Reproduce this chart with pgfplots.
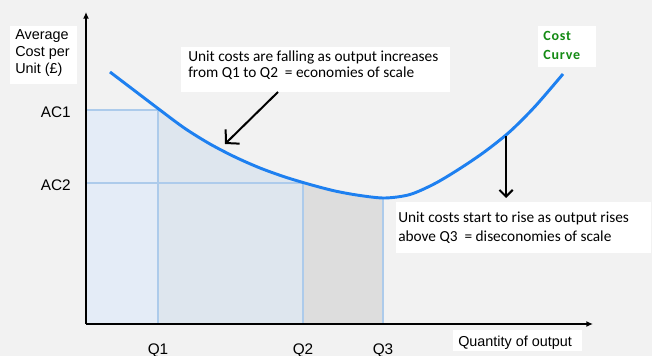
\documentclass[border=0pt]{standalone}
\usepackage{fontspec}
\setmainfont{Liberation Sans}
\newfontfamily\calibri{Carlito}
\newfontfamily\calibrisp[LetterSpace=6]{Carlito}
\usepackage{pgfplots}
\pgfplotsset{compat=1.18}
\usepgfplotslibrary{fillbetween}
\usetikzlibrary{arrows.meta}
\definecolor{bg}{HTML}{F2F2F2}
\definecolor{curveblue}{HTML}{1E80F0}
\definecolor{guide}{HTML}{ADCBEB}
\definecolor{fillA}{HTML}{E4ECF7}
\definecolor{fillB}{HTML}{DEE6EE}
\definecolor{fillC}{HTML}{DDDDDD}
\definecolor{costgreen}{HTML}{138A13}
\begin{document}
\begin{tikzpicture}
\fill[bg] (-64.5pt,-24pt) rectangle (424.5pt,243pt);
\begin{axis}[
  at={(0pt,0pt)}, anchor=south west,
  scale only axis, width=380.25pt, height=234pt,
  xmin=0, xmax=507, ymin=0, ymax=312,
  axis lines=left, axis on top,
  axis line style={line width=1.5pt, -{Latex[length=5pt,width=4.5pt]}},
  clip=false,
  xtick={72,217,297}, xticklabels={Q1,Q2,Q3},
  ytick={141,214}, yticklabels={AC2,AC1},
  major tick length=0pt,
  tick label style={font=\fontsize{11.5}{13}\selectfont},
  xticklabel style={yshift=-11pt},
  yticklabel style={xshift=-8pt, yshift=-2pt},
]
% region left of Q1 below AC1
\addplot[fill=fillA, draw=none] coordinates {(0,0) (0,214) (72,214) (72,0)} -- cycle;
% cost curve path
\addplot[name path=curve, draw=none, smooth, forget plot] coordinates {
(24,252) (49,233) (74,214) (99,195.5) (124,180) (149,167) (174,156) (199,147)
(224,139.5) (249,133) (274,128.5) (299,126) (324,129.5) (349,140.5) (374,155.5)
(399,172.5) (424,192.5) (449,217.5) (477,250)};
\path[name path=base] (axis cs:0,0) -- (axis cs:507,0);
\addplot[fillB] fill between[of=curve and base, soft clip={domain=72:217}, on layer=main];
\addplot[fillC] fill between[of=curve and base, soft clip={domain=217:297}, on layer=main];
% guide lines
\addplot[guide, line width=1.6pt] coordinates {(0,214) (72,214)};
\addplot[guide, line width=1.6pt] coordinates {(72,0) (72,214)};
\addplot[guide, line width=1.6pt] coordinates {(0,141) (217,141)};
\addplot[guide, line width=1.6pt] coordinates {(217,0) (217,141)};
\addplot[guide, line width=1.6pt] coordinates {(297,0) (297,126)};
% visible curve
\addplot[curveblue, line width=2.2pt, smooth] coordinates {
(24,252) (49,233) (74,214) (99,195.5) (124,180) (149,167) (174,156) (199,147)
(224,139.5) (249,133) (274,128.5) (299,126) (324,129.5) (349,140.5) (374,155.5)
(399,172.5) (424,192.5) (449,217.5) (477,250)};
% white boxes
\fill[white] (axis cs:95,232) rectangle (axis cs:364,277);
\fill[white] (axis cs:310,71) rectangle (axis cs:565,122);
\fill[white] (axis cs:-76,240) rectangle (axis cs:-9,298);
\fill[white] (axis cs:367,-27) rectangle (axis cs:496,-6);
\fill[white] (axis cs:452,257) rectangle (axis cs:510,298);
% arrows
\draw[line width=1.5pt, -{Straight Barb[length=7pt,width=15pt]}] (axis cs:192,232) -- (axis cs:139,180);
\draw[line width=1.5pt, -{Straight Barb[length=5pt,width=10pt]}] (axis cs:420,188) -- (axis cs:420,126);
% texts
\begin{scope}[every node/.style={inner sep=0pt, anchor=base west}]
\node[font=\calibri\fontsize{11.5}{12.5}\selectfont] at (axis cs:102,262) {Unit costs are falling as output increases};
\node[font=\calibri\fontsize{11.5}{12.5}\selectfont] at (axis cs:102,246) {from Q1 to Q2 \ = economies of scale};
\node[font=\calibri\fontsize{11.5}{12.5}\selectfont] at (axis cs:312,101) {Unit costs start to rise as output rises};
\node[font=\calibri\fontsize{11.5}{12.5}\selectfont] at (axis cs:312,82) {above Q3 \ = diseconomies of scale};
\node[font=\fontsize{10.8}{12}\selectfont] at (axis cs:-71,284) {Average};
\node[font=\fontsize{10.8}{12}\selectfont] at (axis cs:-71,267) {Cost per};
\node[font=\fontsize{10.8}{12}\selectfont] at (axis cs:-71,250) {Unit (£)};
\node[font=\fontsize{10.8}{12}\selectfont] at (axis cs:372,-22) {Quantity of output};
\node[font=\calibrisp\bfseries\fontsize{10.5}{12}\selectfont, text=costgreen] at (axis cs:457,283) {Cost};
\node[font=\calibrisp\bfseries\fontsize{10.5}{12}\selectfont, text=costgreen] at (axis cs:457,264) {Curve};
\end{scope}
\end{axis}
\pgfresetboundingbox
\path (-64.5pt,-24pt) rectangle (424.5pt,243pt);
\end{tikzpicture}
\end{document}
